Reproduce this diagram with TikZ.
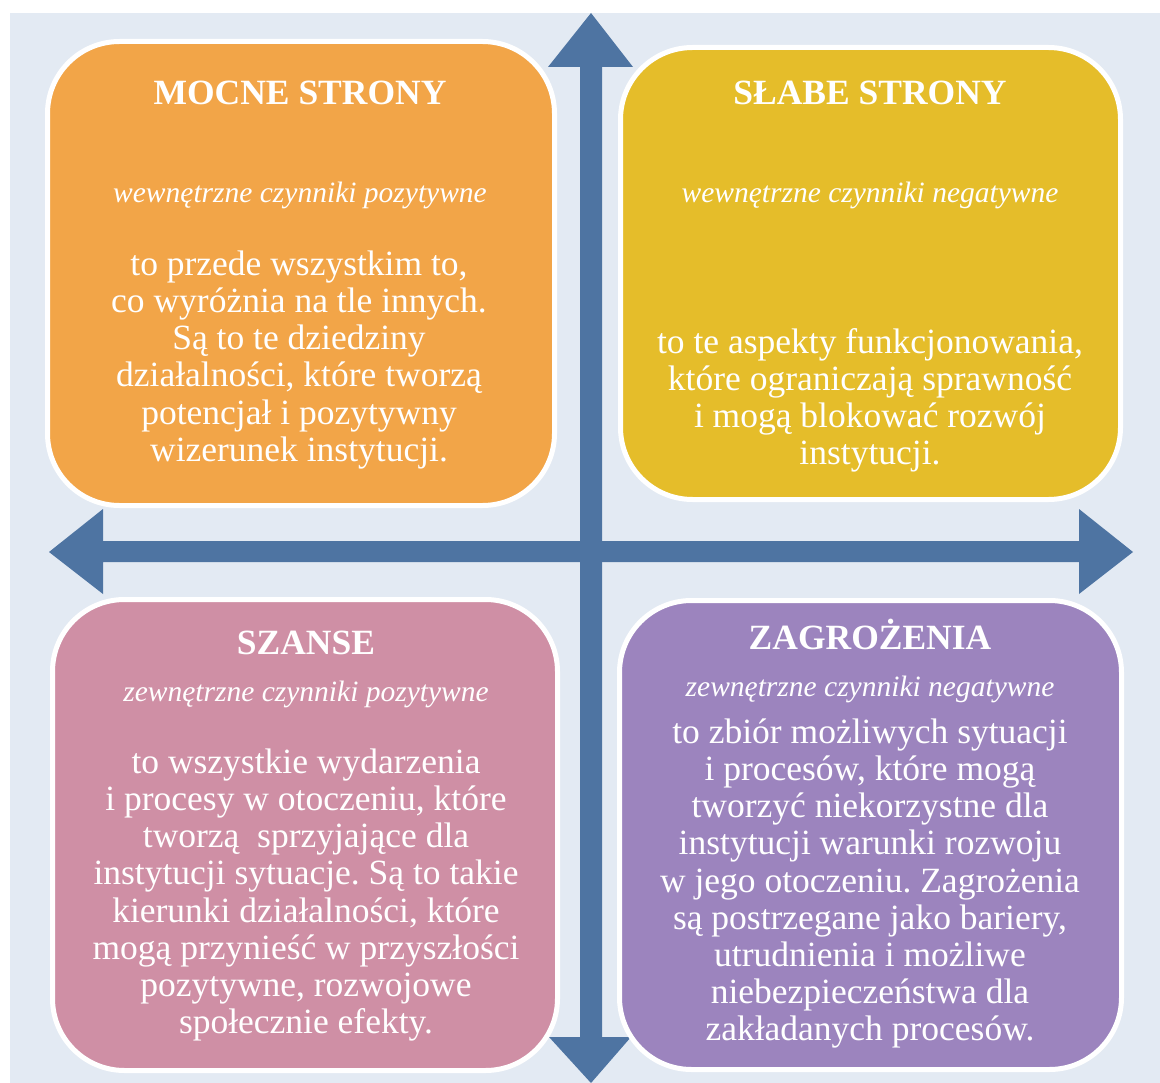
\documentclass[tikz,border=0pt]{standalone}
\usepackage{fontspec}
\setmainfont{Liberation Serif}
\frenchspacing
\definecolor{bgc}{HTML}{E3EAF3}
\definecolor{arrc}{HTML}{4E74A2}
\definecolor{orc}{HTML}{F2A548}
\definecolor{yec}{HTML}{E5BD2A}
\definecolor{pic}{HTML}{CF8FA5}
\definecolor{puc}{HTML}{9C84BE}
\newcommand{\topstrut}{\rule{0pt}{28pt}}
\begin{document}
\begin{tikzpicture}[x=1pt,y=-1pt,
  quad/.style={draw=white, line width=5pt, rounded corners=72pt, inner sep=0pt},
  ttl/.style={text=white, font=\fontsize{35.5}{40}\selectfont\bfseries, inner sep=0pt, anchor=base},
  sub/.style={text=white, font=\fontsize{29.5}{34}\selectfont\itshape, inner sep=0pt, anchor=base},
  body/.style={text=white, font=\fontsize{35.5}{37.2}\selectfont, align=center, inner sep=0pt, anchor=north}]
\useasboundingbox (0,0) rectangle (1160,1083);
\fill[white] (0,0) rectangle (1160,1083);
\fill[bgc] (10,13) rectangle (1160,1083);
% arrows
\fill[arrc] (591,13) -- (633,67) -- (602,67) -- (602,1037) -- (631,1037) -- (591,1083)
  -- (549,1037) -- (580,1037) -- (580,67) -- (548,67) -- cycle;
\fill[arrc] (49,552) -- (103,509) -- (103,541) -- (1079,541) -- (1079,509) -- (1133,552)
  -- (1079,594) -- (1079,562) -- (103,562) -- (103,594) -- cycle;
% boxes
\path[quad, fill=orc] (47.5,41.5) rectangle (554.5,505.5);
\path[quad, fill=yec] (620.5,47.5) rectangle (1120.5,499.5);
\path[quad, fill=pic] (52.5,599.5) rectangle (557.5,1070.5);
\path[quad, fill=puc] (619.5,600.5) rectangle (1121.5,1069.5);
% texts
\node[ttl] (t1) at (300,105) {MOCNE STRONY};
\node[sub] (s1) at (300,203) {wewnętrzne czynniki pozytywne};
\node[body] (b1) at (299,247) {\topstrut to przede wszystkim to,\\co wyróżnia na tle innych.\\Są to te dziedziny\\działalności, które tworzą\\potencjał i pozytywny\\wizerunek instytucji.};
\node[ttl] (t2) at (870,105) {SŁABE STRONY};
\node[sub] (s2) at (870,203) {wewnętrzne czynniki negatywne};
\node[body] (b2) at (870,325) {\topstrut to te aspekty funkcjonowania,\\które ograniczają sprawność\\i mogą blokować rozwój\\instytucji.};
\node[ttl] (t3) at (306,654) {SZANSE};
\node[sub] (s3) at (306,701) {zewnętrzne czynniki pozytywne};
\node[body] (b3) at (306,745) {\topstrut to wszystkie wydarzenia\\i procesy w otoczeniu, które\\tworzą\ \ sprzyjające dla\\instytucji sytuacje. Są to takie\\kierunki działalności, które\\mogą przynieść w przyszłości\\pozytywne, rozwojowe\\społecznie efekty.};
\node[ttl] (t4) at (870,649) {ZAGROŻENIA};
\node[sub] (s4) at (870,696) {zewnętrzne czynniki negatywne};
\node[body] (b4) at (870,715) {\topstrut to zbiór możliwych sytuacji\\i procesów, które mogą\\tworzyć niekorzystne dla\\instytucji warunki rozwoju\\w jego otoczeniu. Zagrożenia\\są postrzegane jako bariery,\\utrudnienia i możliwe\\niebezpieczeństwa dla\\zakładanych procesów.};
\end{tikzpicture}
\end{document}
